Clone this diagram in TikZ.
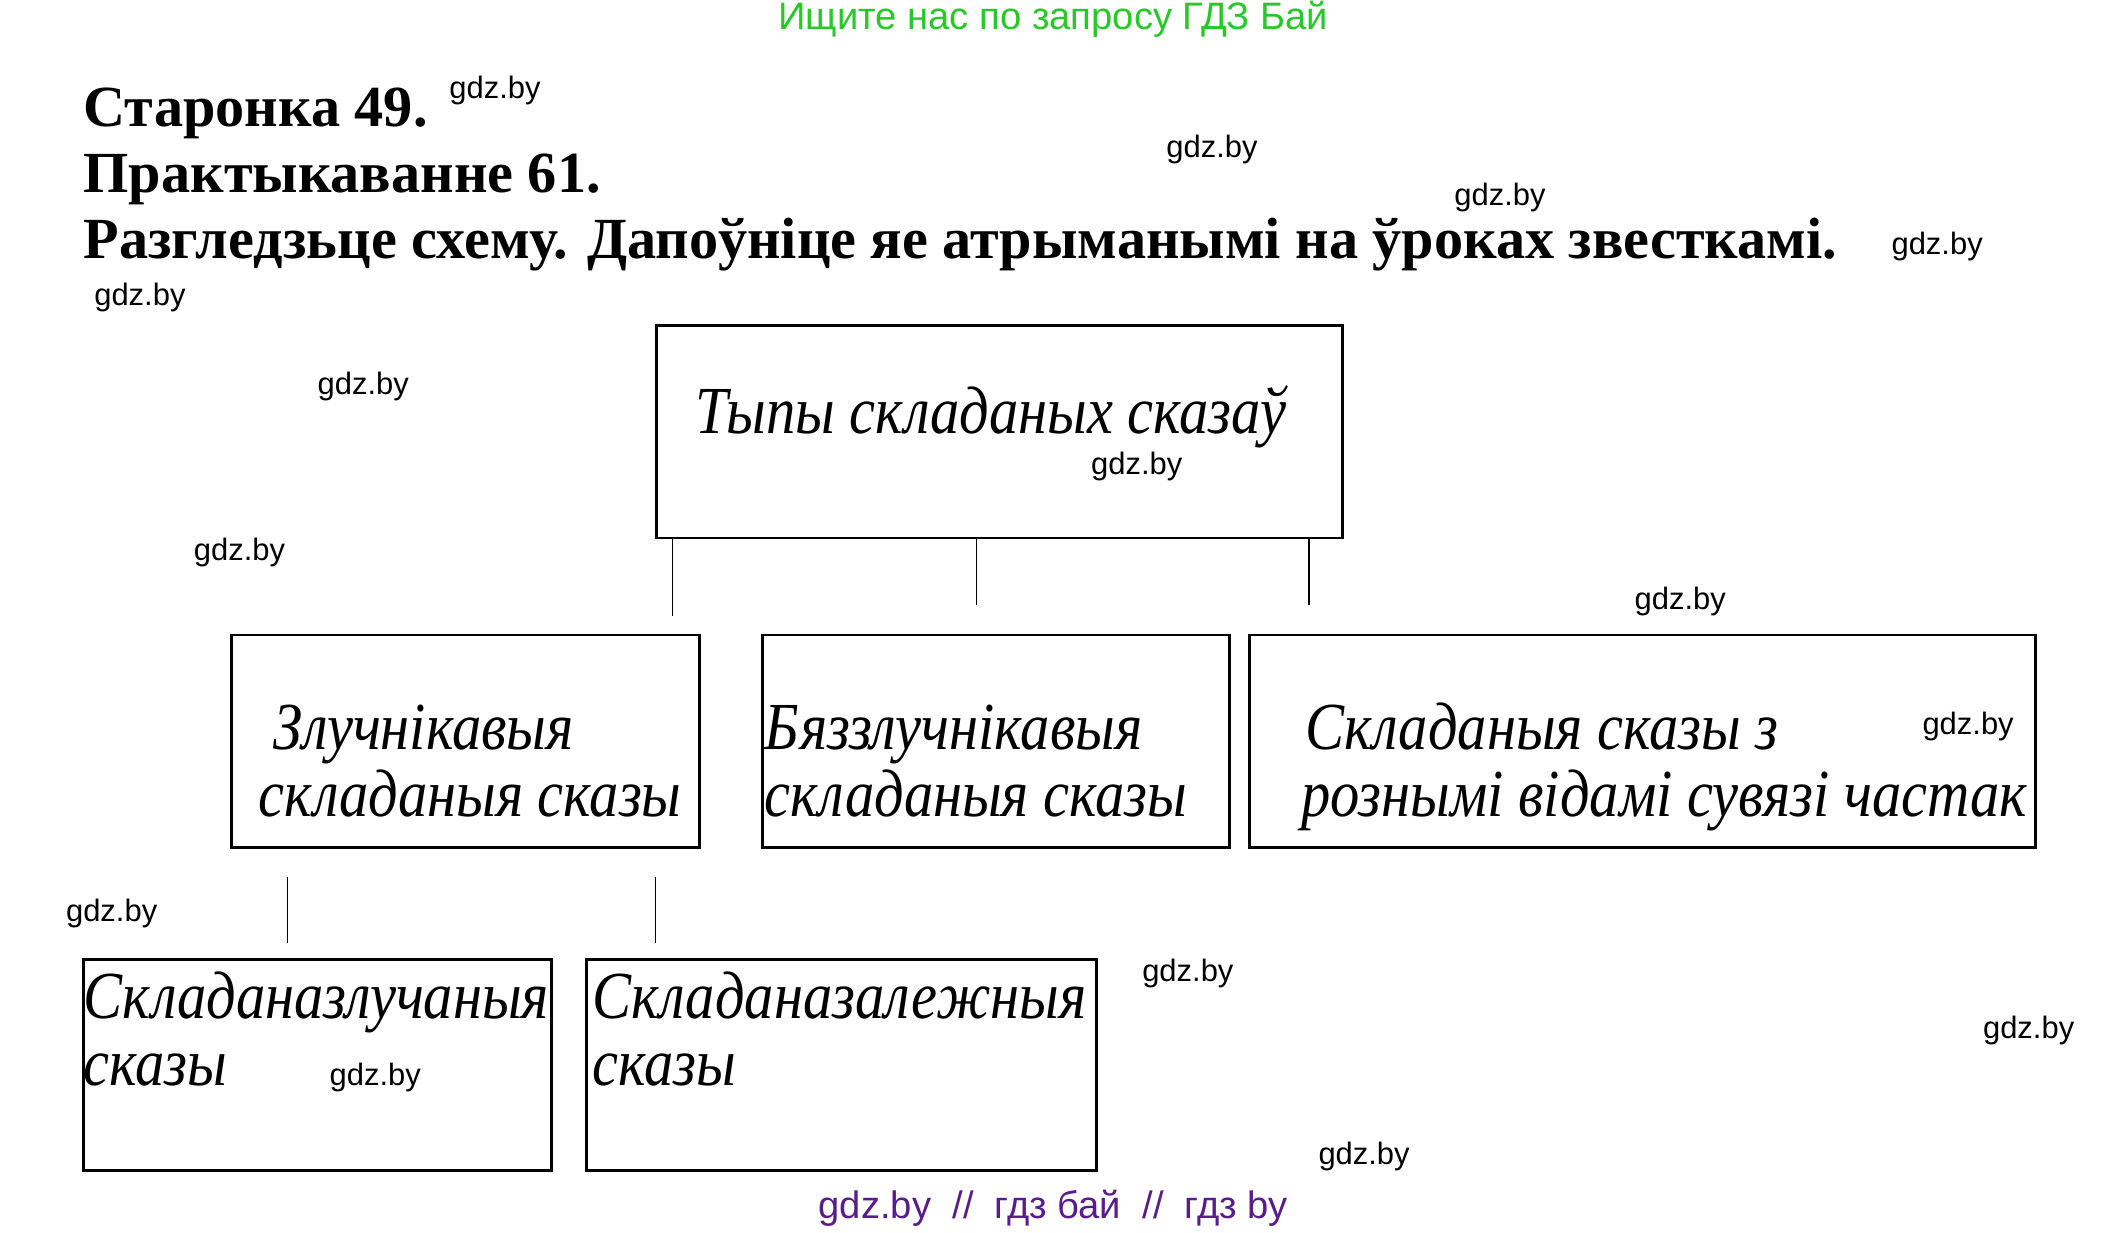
\documentclass[tikz,border=0pt]{standalone}
\usepackage{fontspec}
\setmainfont{Liberation Serif}
\newfontfamily\boxfont[FakeStretch=0.87]{Liberation Serif}
\newfontfamily\wmfont{Liberation Sans}
\definecolor{hdrgreen}{RGB}{40,200,40}
\definecolor{footpurple}{RGB}{88,28,140}

\tikzset{
	box/.style={draw, line width=2pt, inner sep=0pt},
	boxtxt/.style={font=\boxfont\itshape\fontsize{50}{50}\selectfont, align=left, inner sep=0pt, anchor=base west},
	headtxt/.style={font=\bfseries\fontsize{43.3}{43.3}\selectfont, inner sep=0pt, anchor=base west},
	wm/.style={font=\wmfont\fontsize{23}{23}\selectfont, inner sep=0pt},
	link/.style={line width=0.9pt}
}

\begin{document}
\begin{tikzpicture}[x=1pt,y=-1pt]
	\useasboundingbox (0,0) rectangle (1567,916);

	% Header
	\node[font=\wmfont\fontsize{28.4}{28.4}\selectfont, text=hdrgreen, inner sep=0pt, anchor=base] (site) at (783,22) {Ищите нас по запросу ГДЗ Бай};
	\node[headtxt] (page) at (62,94) {Старонка 49.};
	\node[headtxt] (task) at (62,143) {Практыкаванне 61.};
	\node[headtxt] (ask) at (62,192) {Разгледзьце схему. Дапоўніце яе атрыманымі на ўроках звесткамі.};

	% Boxes
	\node[box, minimum width=510, minimum height=158] (types) at (743,321) {};
	\node[box, minimum width=348, minimum height=158] (zl) at (346,551) {};
	\node[box, minimum width=347, minimum height=158] (bz) at (740.5,551) {};
	\node[box, minimum width=584, minimum height=158] (rv) at (1221,551) {};
	\node[box, minimum width=348, minimum height=157] (szl) at (236,791.5) {};
	\node[box, minimum width=379, minimum height=157] (szz) at (625.5,791.5) {};

	% Box texts
	\node[boxtxt, anchor=base] (typestxt) at (737,322) {Тыпы складаных сказаў};
	\node[boxtxt] (zltxt) at (192,607) {\hspace*{11pt}Злучнікавыя\\складаныя сказы};
	\node[boxtxt] (bztxt) at (568,607) {Бяззлучнікавыя\\складаныя сказы};
	\node[boxtxt] (rvtxt) at (967,607) {\hspace*{3pt}Складаныя сказы з\\рознымі відамі сувязі частак};
	\node[boxtxt] (szltxt) at (62,807) {Складаназлучаныя\\сказы};
	\node[boxtxt] (szztxt) at (440,807) {Складаназалежныя\\сказы};

	% Links
	\coordinate (e1) at (500,458);
	\coordinate (e2) at (726,450);
	\coordinate (e3) at (973,450);
	\draw[link] (types.south -| e1) -- (e1);
	\draw[link] (types.south -| e2) -- (e2);
	\draw[link] (types.south -| e3) -- (e3);
	\coordinate (f1) at (214,652);
	\coordinate (g1) at (214,701);
	\coordinate (f2) at (487,652);
	\coordinate (g2) at (487,701);
	\draw[link] (f1) -- (g1);
	\draw[link] (f2) -- (g2);

	% Watermarks
	\foreach \x/\y [count=\i] in {368/67, 901/111, 1115/147, 1440/183, 104/221, 270/287, 845/347, 178/411, 1249/447, 1463/540, 83/679, 883/724, 1508/766, 279/801, 1014/860}
		\node[wm] (wm\i) at (\x,\y) {gdz.by};

	% Footer
	\node[font=\wmfont\fontsize{28.4}{28.4}\selectfont, text=footpurple, inner sep=0pt, anchor=base] (foot) at (783,906) {gdz.by \ // \ гдз бай \ // \ гдз by};
\end{tikzpicture}
\end{document}
